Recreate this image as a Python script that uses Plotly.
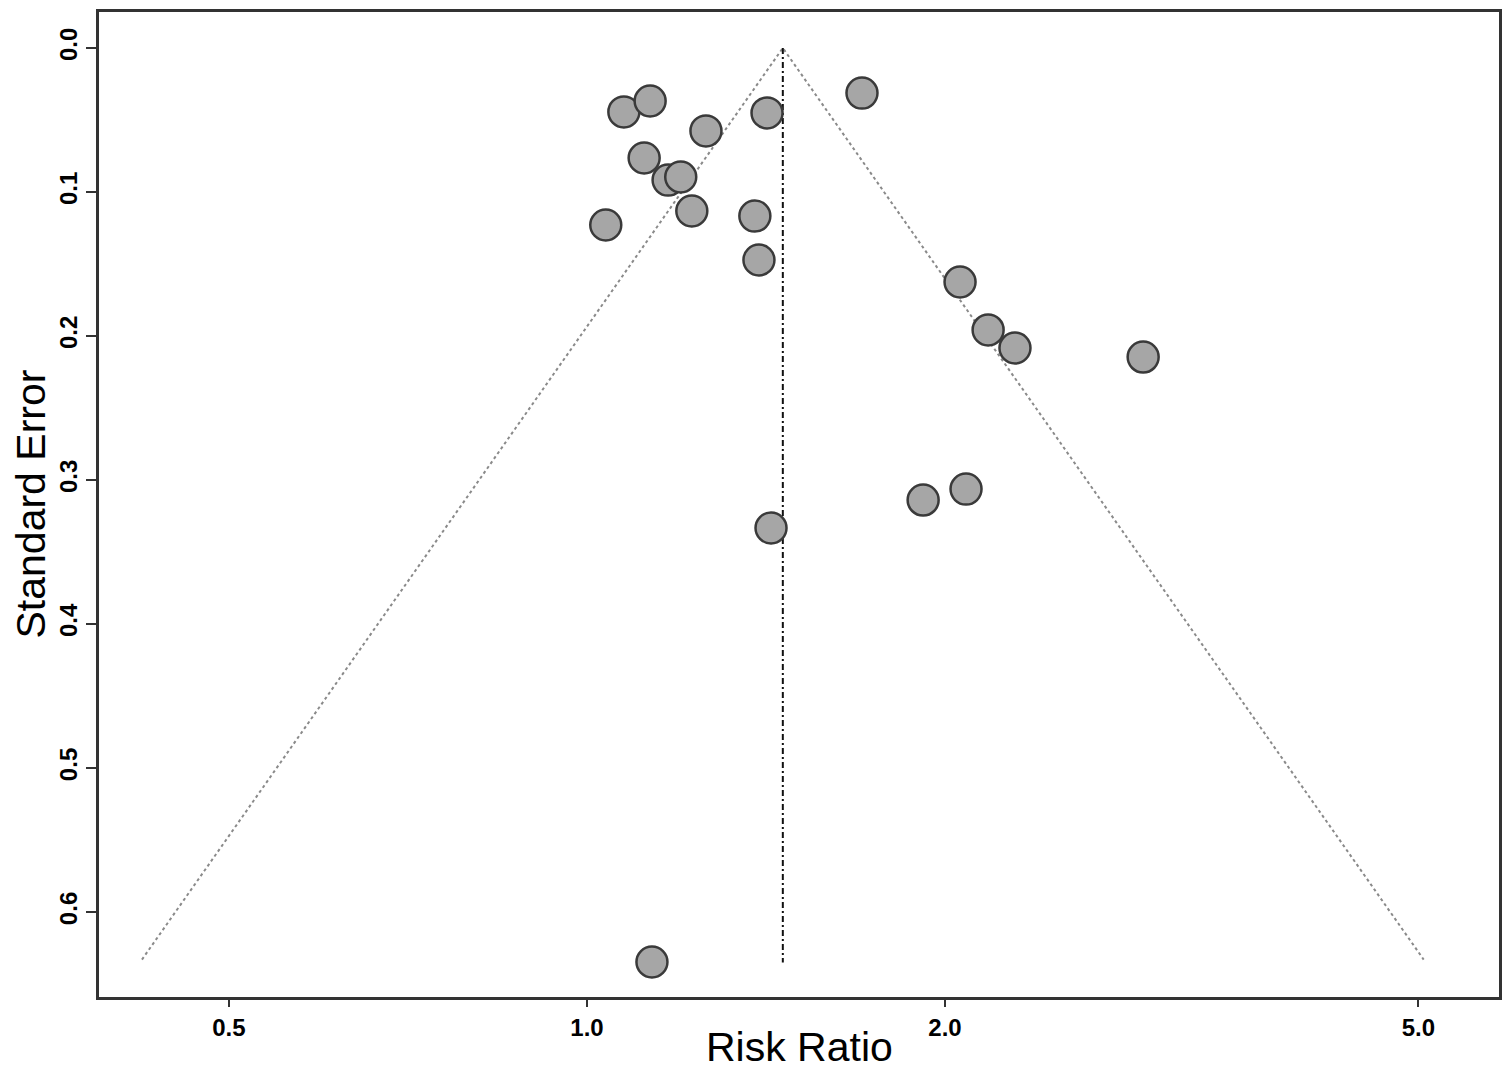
import numpy as np
import plotly.graph_objects as go

# Study data: risk ratio and standard error
risk_ratio = [1.074, 1.130, 1.417, 1.703, 1.259, 1.117, 1.170, 1.199, 1.037, 1.225,
              1.384, 1.395, 2.059, 2.174, 2.290, 2.935, 2.083, 1.917, 1.428, 1.134]
std_error = [0.0444, 0.0368, 0.0451, 0.0313, 0.0576, 0.0764, 0.0917, 0.0896, 0.1229, 0.1132,
             0.1167, 0.1472, 0.1625, 0.1958, 0.2083, 0.2146, 0.3063, 0.3139, 0.3333, 0.6347]

pooled_rr = 1.461
se_max = 0.633
se_line_end = 0.635

x_tick_vals = [0.5, 1.0, 2.0, 5.0]
x_tick_text = ["0.5", "1.0", "2.0", "5.0"]
y_tick_vals = [0.0, 0.1, 0.2, 0.3, 0.4, 0.5, 0.6]
y_tick_text = ["0.0", "0.1", "0.2", "0.3", "0.4", "0.5", "0.6"]

lo = float(np.exp(np.log(pooled_rr) - 1.96 * se_max))
hi = float(np.exp(np.log(pooled_rr) + 1.96 * se_max))

fig = go.Figure()
fig.add_trace(go.Scatter(x=[lo, pooled_rr, hi], y=[se_max, 0, se_max], mode="lines",
                         line=dict(color="#8a8a8a", width=2, dash="dot"),
                         hoverinfo="skip", showlegend=False))
fig.add_trace(go.Scatter(x=[pooled_rr, pooled_rr], y=[0, se_line_end], mode="lines",
                         line=dict(color="#111111", width=2, dash="6px,3px,2px,3px"),
                         hoverinfo="skip", showlegend=False))
fig.add_trace(go.Scatter(x=risk_ratio, y=std_error, mode="markers",
                         marker=dict(size=31, color="#a6a6a6",
                                     line=dict(color="#3a3a3a", width=2.5)),
                         showlegend=False))

tick_font = dict(family="Liberation Sans", size=24, color="black")
title_font = dict(family="Liberation Sans", size=41, color="black")
fig.update_layout(
    width=1508, height=1069,
    margin=dict(l=99, r=9, t=12, b=72),
    paper_bgcolor="white", plot_bgcolor="white",
    font=dict(family="Liberation Sans"),
    annotations=[
        dict(text="Risk Ratio", xref="paper", yref="paper", x=0.5, y=0, yshift=-50,
             xanchor="center", yanchor="middle", showarrow=False, font=title_font),
        dict(text="Standard Error", xref="paper", yref="paper", x=0, y=0.5, xshift=-69,
             xanchor="center", yanchor="middle", textangle=-90, showarrow=False, font=title_font),
    ],
)
fig.update_xaxes(
    type="log", range=[-0.4103, 0.7668], automargin=False,
    tickvals=x_tick_vals, ticktext=[f"<b>{t}</b>" for t in x_tick_text],
    tickfont=tick_font, ticks="outside", ticklen=7, tickwidth=2, tickcolor="#333",
    showgrid=False, zeroline=False,
    showline=True, linecolor="#333", linewidth=2.5, mirror=True,
)
fig.update_yaxes(
    range=[0.659, -0.025], automargin=False,
    tickvals=y_tick_vals, ticktext=[f"<b>{t}</b>" for t in y_tick_text],
    tickfont=tick_font, tickangle=-90, ticks="outside", ticklen=10, tickwidth=2, tickcolor="#333",
    showgrid=False, zeroline=False,
    showline=True, linecolor="#333", linewidth=2.5, mirror=True,
)
fig.write_html("out.html", config={"displayModeBar": False},
               post_script="document.body.style.margin='0px';document.body.style.overflow='hidden';")
